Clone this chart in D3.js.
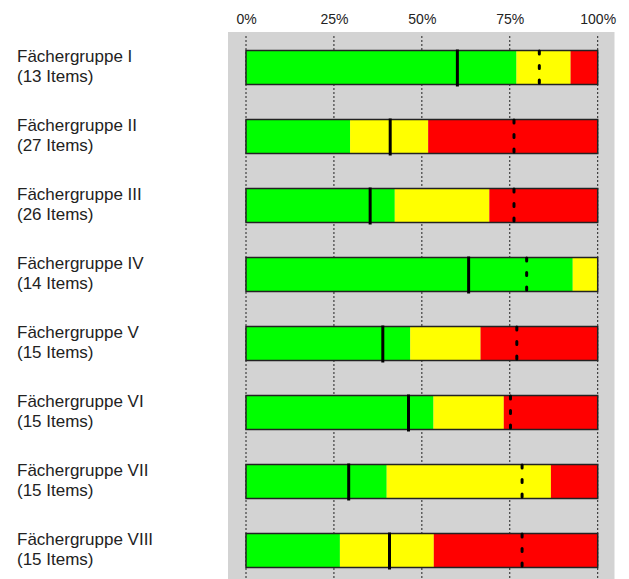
<!DOCTYPE html>
<html>
<head>
<meta charset="utf-8">
<script src="https://cdn.jsdelivr.net/npm/d3@7"></script>
<style>
  body { margin: 0; background: #fff; }
  text { font-family: "Liberation Sans", Arial, sans-serif; }
</style>
</head>
<body>
<div id="chart"></div>
<script>
// data
var groups = ["Fächergruppe I", "Fächergruppe II", "Fächergruppe III", "Fächergruppe IV",
              "Fächergruppe V", "Fächergruppe VI", "Fächergruppe VII", "Fächergruppe VIII"];
var itemCounts = [13, 27, 26, 14, 15, 15, 15, 15];
var greenPct  = [76.9, 29.6, 42.3, 92.9, 46.7, 53.3, 40.0, 26.7];
var yellowPct = [15.4, 22.2, 26.9, 7.1, 20.0, 20.0, 46.7, 26.7];
var redPct    = [7.7, 48.1, 30.8, 0, 33.3, 26.7, 13.3, 46.7];
var solidMark = [60.1, 41.0, 35.3, 63.3, 38.9, 46.2, 29.2, 40.8];
var dotMark   = [83.4, 76.2, 76.2, 79.8, 77.0, 75.2, 78.5, 78.5];
var tickVals = [0, 25, 50, 75, 100];

var width = 629, height = 579;
var barH = 34;

var svg = d3.select("#chart").append("svg")
  .attr("width", width)
  .attr("height", height);

var x = d3.scaleLinear().domain([0, 100]).range([246, 597.7]);
var y = d3.scalePoint().domain(groups).range([33, 585]).padding(0.5);

// grey panel
svg.append("rect")
  .attr("x", 228).attr("y", 32)
  .attr("width", 386.5).attr("height", height - 32)
  .attr("fill", "#d3d3d3");

// dotted grid
svg.append("g").selectAll("line")
  .data(tickVals)
  .join("line")
  .attr("x1", function(d) { return x(d); })
  .attr("x2", function(d) { return x(d); })
  .attr("y1", 36).attr("y2", height)
  .attr("stroke", "#222")
  .attr("stroke-width", 1)
  .attr("stroke-dasharray", "2,2");

// top axis labels
var axis = svg.append("g")
  .attr("transform", "translate(0,32)")
  .call(d3.axisTop(x).tickValues(tickVals).tickSize(0).tickPadding(8)
    .tickFormat(function(d) { return d + "%"; }));
axis.select(".domain").remove();
axis.selectAll("text")
  .attr("font-family", "'Liberation Sans', Arial, sans-serif")
  .attr("font-size", 14)
  .attr("fill", "#222");

// stacked bars
var rows = groups.map(function(g, i) {
  return { name: g, n: itemCounts[i], green: greenPct[i], yellow: yellowPct[i], red: redPct[i],
           solid: solidMark[i], dot: dotMark[i] };
});
var stack = d3.stack().keys(["green", "yellow", "red"]);
var colors = { green: "#00ff00", yellow: "#ffff00", red: "#ff0000" };

svg.append("g").selectAll("g")
  .data(stack(rows))
  .join("g")
  .attr("fill", function(d) { return colors[d.key]; })
  .selectAll("rect")
  .data(function(d) { return d; })
  .join("rect")
  .attr("x", function(d) { return x(d[0]); })
  .attr("width", function(d) { return x(d[1]) - x(d[0]); })
  .attr("y", function(d) { return y(d.data.name) - barH / 2; })
  .attr("height", barH);

// bar outline
svg.append("g").selectAll("rect")
  .data(rows)
  .join("rect")
  .attr("x", x(0))
  .attr("width", x(100) - x(0))
  .attr("y", function(d) { return y(d.name) - barH / 2; })
  .attr("height", barH)
  .attr("fill", "none")
  .attr("stroke", "#222")
  .attr("stroke-width", 1.5);

// solid marker
svg.append("g").selectAll("line")
  .data(rows)
  .join("line")
  .attr("x1", function(d) { return x(d.solid); })
  .attr("x2", function(d) { return x(d.solid); })
  .attr("y1", function(d) { return y(d.name) - barH / 2 - 1; })
  .attr("y2", function(d) { return y(d.name) + barH / 2 + 2; })
  .attr("stroke", "#000")
  .attr("stroke-width", 3);

// dotted marker
svg.append("g").selectAll("line")
  .data(rows)
  .join("line")
  .attr("x1", function(d) { return x(d.dot); })
  .attr("x2", function(d) { return x(d.dot); })
  .attr("y1", function(d) { return y(d.name) - barH / 2 + 0.5; })
  .attr("y2", function(d) { return y(d.name) + barH / 2 + 2; })
  .attr("stroke", "#000")
  .attr("stroke-width", 3)
  .attr("stroke-linecap", "round")
  .attr("stroke-dasharray", "3,11.5");

// row labels
var lab = svg.append("g").selectAll("text")
  .data(rows)
  .join("text")
  .attr("x", 17)
  .attr("y", function(d) { return y(d.name) - 6; })
  .attr("font-size", 17)
  .attr("fill", "#222");
lab.append("tspan").text(function(d) { return d.name; });
lab.append("tspan")
  .attr("x", 17).attr("dy", 20)
  .text(function(d) { return "(" + d.n + " Items)"; });
</script>
</body>
</html>
